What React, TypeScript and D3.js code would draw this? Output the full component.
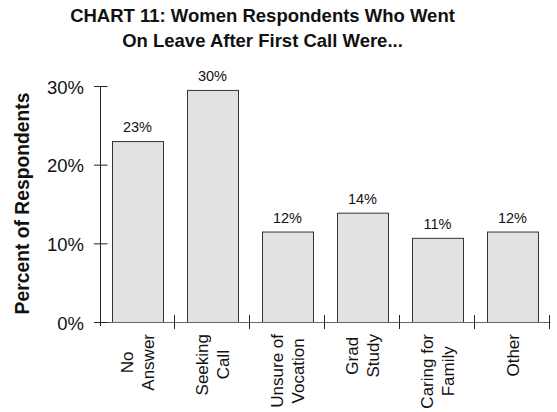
import React, { useEffect, useRef } from 'react';
import * as d3 from 'd3';

// chart data
const categories = ['No Answer', 'Seeking Call', 'Unsure of Vocation', 'Grad Study', 'Caring for Family', 'Other'];
const categoryLines = [['No', 'Answer'], ['Seeking', 'Call'], ['Unsure of', 'Vocation'], ['Grad', 'Study'], ['Caring for', 'Family'], ['Other']];
const values = [23, 29.5, 11.5, 13.9, 10.7, 11.5];
const valueLabels = ['23%', '30%', '12%', '14%', '11%', '12%'];
const yTicks = [0, 10, 20, 30];
const titleLines = ['CHART 11: Women Respondents Who Went', 'On Leave After First Call Were...'];
const yTitle = 'Percent of Respondents';

const W = 557;
const H = 412;
const FONT = '"Liberation Sans", Arial, Helvetica, sans-serif';

const App: React.FC = () => {
  const svgRef = useRef<SVGSVGElement>(null);

  useEffect(() => {
    if (!svgRef.current) return;
    const svg = d3.select(svgRef.current);
    svg.selectAll('*').remove();

    const x = d3.scaleBand<string>()
      .domain(categories)
      .range([100, 550])
      .paddingInner(0.32)
      .paddingOuter(0.16);
    const y = d3.scaleLinear().domain([0, 30]).range([322, 86]);

    // title
    svg.append('g')
      .selectAll('text')
      .data(titleLines)
      .join('text')
      .attr('x', 262.5)
      .attr('y', (_, i) => 22 + i * 24.5)
      .attr('text-anchor', 'middle')
      .attr('font-family', FONT)
      .attr('font-weight', 'bold')
      .attr('font-size', 18.5)
      .attr('fill', '#111')
      .text(d => d);

    // y axis title
    svg.append('text')
      .attr('transform', `translate(29,203.5) rotate(-90)`)
      .attr('text-anchor', 'middle')
      .attr('font-family', FONT)
      .attr('font-weight', 'bold')
      .attr('font-size', 19.3)
      .attr('fill', '#111')
      .text(yTitle);

    // bars
    svg.append('g')
      .selectAll('rect')
      .data(values)
      .join('rect')
      .attr('x', (_, i) => x(categories[i])! + 0.5)
      .attr('y', d => y(d) + 0.5)
      .attr('width', x.bandwidth())
      .attr('height', d => y(0) - y(d))
      .attr('fill', '#e2e2e2')
      .attr('stroke', '#333')
      .attr('stroke-width', 1);

    // value labels
    svg.append('g')
      .selectAll('text')
      .data(values)
      .join('text')
      .attr('x', (_, i) => x(categories[i])! + x.bandwidth() / 2)
      .attr('y', d => y(d) - 9)
      .attr('text-anchor', 'middle')
      .attr('font-family', FONT)
      .attr('font-size', 14.5)
      .attr('fill', '#111')
      .text((_, i) => valueLabels[i]);

    // x axis line and category ticks
    const axis = svg.append('g');
    axis.append('line')
      .attr('x1', 95).attr('x2', 550.5)
      .attr('y1', y(0) + 0.5).attr('y2', y(0) + 0.5)
      .attr('stroke', '#666');
    const bounds = categories.map(c => x(c)! - x.step() * x.paddingInner() / 2);
    bounds.push(x.range()[1]);
    axis.selectAll('line.xtick')
      .data(bounds.slice(1))
      .join('line')
      .attr('class', 'xtick')
      .attr('x1', d => Math.round(d) - 0.5).attr('x2', d => Math.round(d) - 0.5)
      .attr('y1', y(0) - 7).attr('y2', y(0) + 7)
      .attr('stroke', '#222');

    // y axis
    axis.append('line')
      .attr('x1', 100.5).attr('x2', 100.5)
      .attr('y1', y(30)).attr('y2', y(0) + 4)
      .attr('stroke', '#222');
    axis.selectAll('line.ytick')
      .data(yTicks)
      .join('line')
      .attr('class', 'ytick')
      .attr('x1', 94).attr('x2', 107.5)
      .attr('y1', d => y(d) + 0.5).attr('y2', d => y(d) + 0.5)
      .attr('stroke', '#222');
    axis.selectAll('text.ytl')
      .data(yTicks)
      .join('text')
      .attr('class', 'ytl')
      .attr('x', 84)
      .attr('y', d => y(d) + 7.5)
      .attr('text-anchor', 'end')
      .attr('font-family', FONT)
      .attr('font-size', 18.5)
      .attr('fill', '#111')
      .text(d => `${d}%`);

    // rotated category labels, lines centred in a block hung below the axis
    const labelTop = 334;
    const lh = 21;
    categoryLines.forEach((lines, i) => {
      const cx = x(categories[i])! + x.bandwidth() / 2;
      const g = svg.append('g')
        .attr('transform', `translate(${cx},${labelTop}) rotate(-90)`);
      const texts = g.selectAll('text')
        .data(lines)
        .join('text')
        .attr('text-anchor', 'middle')
        .attr('font-family', FONT)
        .attr('font-size', 17)
        .attr('fill', '#111')
        .attr('y', (_, j) => (j - (lines.length - 1) / 2) * lh + 6)
        .text(d => d);
      let maxLen = 0;
      texts.each(function () {
        maxLen = Math.max(maxLen, (this as SVGTextElement).getComputedTextLength());
      });
      texts.attr('x', -maxLen / 2);
    });
  }, []);

  return (
    <svg
      ref={svgRef}
      width={W}
      height={H}
      style={{ position: 'absolute', left: 0, top: 0, background: '#fff' }}
    />
  );
};

export default App;
